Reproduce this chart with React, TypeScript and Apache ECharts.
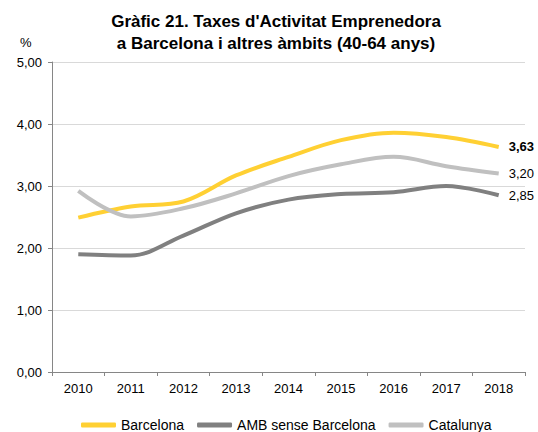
import React, { useEffect, useRef } from "react";
import * as echarts from "echarts";

const years = ["2010", "2011", "2012", "2013", "2014", "2015", "2016", "2017", "2018"];
const barcelona = [2.49, 2.67, 2.75, 3.17, 3.47, 3.74, 3.86, 3.79, 3.63];
const amb = [1.9, 1.88, 2.2, 2.56, 2.78, 2.87, 2.9, 3.0, 2.85];
const catalunya = [2.92, 2.51, 2.64, 2.88, 3.16, 3.35, 3.47, 3.32, 3.2];
const yTicks = { min: 0, max: 5, interval: 1 };

const FONT = "Liberation Sans, Arial, sans-serif";
const fmt = (v: number) => v.toFixed(2).replace(".", ",");

export default function App() {
  const ref = useRef<HTMLDivElement>(null);
  useEffect(() => {
    if (!ref.current) return;
    const chart = echarts.init(ref.current, undefined, { renderer: "svg" });
    const mk = (name: string, data: number[], color: string, bold: boolean) => ({
      name,
      type: "line",
      data,
      smooth: 0.35,
      symbol: "none",
      lineStyle: { color, width: 4 },
      itemStyle: { color },
      endLabel: {
        show: true,
        formatter: (p: any) => fmt(p.value),
        color: "#000",
        fontFamily: FONT,
        fontSize: 13,
        fontWeight: bold ? "bold" : "normal",
        distance: 10,
      },
    });
    chart.setOption({
      animation: false,
      textStyle: { fontFamily: FONT },
      title: {
        text: "Gràfic 21. Taxes d'Activitat Emprenedora\na Barcelona i altres àmbits (40-64 anys)",
        left: 271,
        textAlign: "center",
        top: 5,
        textStyle: { fontFamily: FONT, fontSize: 17, fontWeight: "bold", color: "#000", lineHeight: 22 },
      },
      graphic: [
        { type: "text", left: 20, top: 36, style: { text: "%", fontFamily: FONT, fontSize: 13, fill: "#000" } },
      ],
      legend: {
        top: 413,
        left: 76,
        itemWidth: 35,
        itemHeight: 5,
        itemGap: 13,
        icon: "roundRect",
        textStyle: { fontFamily: FONT, fontSize: 14, color: "#000" },
        data: ["Barcelona", "AMB sense Barcelona", "Catalunya"],
      },
      grid: { left: 52, right: 13, top: 62, bottom: 60, containLabel: false },
      xAxis: {
        type: "category",
        data: years,
        boundaryGap: true,
        axisLine: { lineStyle: { color: "#868686", width: 1 } },
        axisTick: { show: true, length: 4, lineStyle: { color: "#868686" } },
        axisLabel: { color: "#000", fontFamily: FONT, fontSize: 13, margin: 10 },
      },
      yAxis: {
        type: "value",
        min: yTicks.min,
        max: yTicks.max,
        interval: yTicks.interval,
        axisLine: { show: true, lineStyle: { color: "#868686", width: 1 } },
        axisTick: { show: true, length: 4, lineStyle: { color: "#868686" } },
        splitLine: { lineStyle: { color: "#D9D9D9", width: 1 } },
        axisLabel: { color: "#000", fontFamily: FONT, fontSize: 13, margin: 10, formatter: (v: number) => fmt(v) },
      },
      series: [
        mk("Barcelona", barcelona, "#FFD033", true),
        mk("AMB sense Barcelona", amb, "#808080", false),
        mk("Catalunya", catalunya, "#C0C0C0", false),
      ],
    });
    return () => chart.dispose();
  }, []);
  return <div ref={ref} style={{ width: 538, height: 432, position: "absolute", left: 0, top: 0 }} />;
}
